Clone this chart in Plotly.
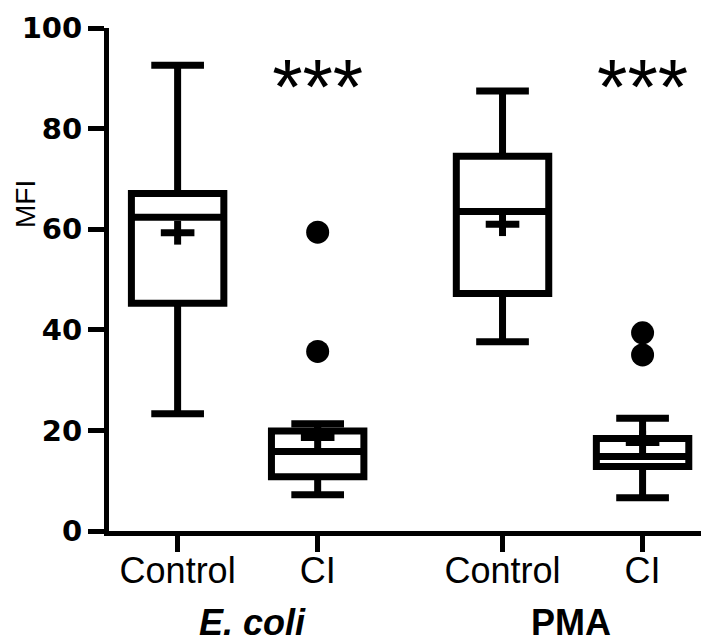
import plotly.graph_objects as go

categories = ["Control", "CI", "Control", "CI"]
groups = ["<b><i>E. coli</i></b>", "<b>PMA</b>"]
group_x = [0.535, 2.81]
x_pos = [0, 1, 2.32, 3.32]
q1 = [45.3, 10.8, 47.2, 12.8]
median = [62.4, 15.8, 63.5, 14.8]
q3 = [67.1, 19.9, 74.5, 18.4]
lower = [23.3, 7.2, 37.6, 6.6]
upper = [92.6, 21.3, 87.5, 22.4]
mean = [59.3, 18.6, 61.0, 17.6]
outlier_x = [1, 1, 3.32, 3.32]
outlier_y = [59.4, 35.7, 39.4, 35.0]
y_ticks = [0, 20, 40, 60, 80, 100]
stars_x = [1, 3.32]
stars_y = [86.8, 86.8]
stars_text = ["***", "***"]

fig = go.Figure()
for i in range(4):
    fig.add_trace(go.Box(
        x=[x_pos[i]], q1=[q1[i]], median=[median[i]], q3=[q3[i]],
        lowerfence=[lower[i]], upperfence=[upper[i]],
        width=0.66, whiskerwidth=0.57,
        line=dict(color="black", width=7), fillcolor="white",
        boxpoints=False, showlegend=False, hoverinfo="skip"))

fig.add_trace(go.Scatter(x=x_pos, y=mean, mode="markers",
    marker=dict(symbol="line-ew", size=24, line=dict(color="black", width=7)),
    showlegend=False, hoverinfo="skip"))
fig.add_trace(go.Scatter(x=x_pos, y=mean, mode="markers",
    marker=dict(symbol="line-ns", size=17, line=dict(color="black", width=7)),
    showlegend=False, hoverinfo="skip"))
fig.add_trace(go.Scatter(x=outlier_x, y=outlier_y, mode="markers",
    marker=dict(symbol="circle", size=23, color="black"),
    showlegend=False, hoverinfo="skip"))
fig.add_trace(go.Scatter(x=stars_x, y=stars_y, mode="text", text=stars_text,
    textfont=dict(family="Liberation Sans", size=78, color="black"),
    textposition="middle center", showlegend=False, hoverinfo="skip"))

for gx, gt in zip(group_x, groups):
    fig.add_annotation(x=gx, y=-0.2264, xref="x", yref="paper", text=gt,
        showarrow=False, font=dict(family="Liberation Sans", size=36, color="black"),
        xanchor="center", yanchor="bottom")
fig.add_annotation(x=0, y=65, xref="paper", yref="y", text="MFI",
    textangle=-90, showarrow=False, xshift=-84,
    font=dict(family="Liberation Sans", size=28, color="black"),
    xanchor="center", yanchor="middle")

fig.update_layout(
    width=709, height=642,
    margin=dict(l=101, r=3, t=15, b=119),
    paper_bgcolor="white", plot_bgcolor="white",
    xaxis=dict(range=[-0.49, 3.83], tickvals=x_pos, ticktext=categories,
               showline=True, linecolor="black", linewidth=5,
               ticks="outside", ticklen=16, tickwidth=5, tickcolor="black",
               showgrid=False, zeroline=False, ticklabelstandoff=-12,
               tickfont=dict(family="Liberation Sans", size=36, color="black")),
    yaxis=dict(range=[0, 100], tickvals=y_ticks, ticklabeloverflow="allow",
               showline=True, linecolor="black", linewidth=5,
               ticks="outside", ticklen=16, tickwidth=5, tickcolor="black",
               showgrid=False, zeroline=False,
               tickfont=dict(family="DejaVu Sans", size=29, color="black", weight="bold")),
)
fig.write_html("out.html")
